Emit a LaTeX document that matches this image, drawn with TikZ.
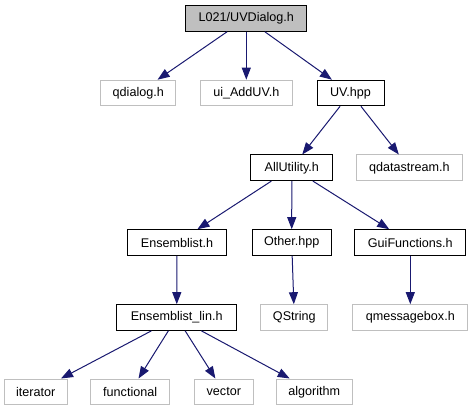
\documentclass[tikz,border=0pt]{standalone}
\usepackage{fontspec}
\setmainfont{Liberation Sans}
\usetikzlibrary{arrows.meta}
\definecolor{edgeblue}{HTML}{191970}
\definecolor{boxgray}{HTML}{BFBFBF}

\begin{document}
\begin{tikzpicture}[x=1pt, y=-1pt,
    file/.style={draw=black, line width=1pt, minimum height=25.6pt, inner sep=0pt,
                 font=\fontsize{12.6}{15}\selectfont},
    sysfile/.style={file, draw=boxgray},
    dep/.style={-{Triangle[length=12pt,width=9pt]}, draw=edgeblue, line width=1pt}]
    \useasboundingbox (0,0) rectangle (473,411);

    % Fichier de depart
    \node[file, fill=boxgray, minimum width=121pt] (top) at (246.3,18.5) {L021/UVDialog.h};

    % Premier niveau
    \node[sysfile, minimum width=74.7pt] (qdialog) at (138.3,93) {qdialog.h};
    \node[sysfile, minimum width=92pt] (uiadd) at (246.3,93) {ui\_AddUV.h};
    \node[file, minimum width=67pt] (uv) at (350.5,93) {UV.hpp};

    % Deuxieme niveau
    \node[file, minimum width=82.3pt] (allutil) at (291.8,167.8) {AllUtility.h};
    \node[sysfile, minimum width=106pt] (qdatastream) at (409.3,167.8) {qdatastream.h};

    % Troisieme niveau
    \node[file, minimum width=98.6pt] (ensemblist) at (177,242.5) {Ensemblist.h};
    \node[file, minimum width=78.7pt] (other) at (291.7,242.5) {Other.hpp};
    \node[file, minimum width=110.7pt] (guifun) at (410.3,242.5) {GuiFunctions.h};

    % Quatrieme niveau
    \node[file, minimum width=120pt] (enslin) at (176.7,317.5) {Ensemblist\_lin.h};
    \node[sysfile, minimum width=66.7pt] (qstring) at (294.3,317.5) {QString};
    \node[sysfile, minimum width=114.7pt] (qmsg) at (410.3,317.5) {qmessagebox.h};

    % En-tetes standard
    \node[sysfile, minimum width=63pt] (iterator) at (35.8,391.8) {iterator};
    \node[sysfile, minimum width=79pt] (functional) at (130.2,391.8) {functional};
    \node[sysfile, minimum width=59pt] (vector) at (223.8,391.8) {vector};
    \node[sysfile, minimum width=76pt] (algorithm) at (314.3,391.8) {algorithm};

    % Inclusions
    \draw[dep] (top) -- (qdialog);
    \draw[dep] (top) -- (uiadd);
    \draw[dep] (top) -- (uv);
    \draw[dep] (uv) -- (allutil);
    \draw[dep] (uv) -- (qdatastream);
    \draw[dep] (allutil) -- (ensemblist);
    \draw[dep] (allutil) -- (other);
    \draw[dep] (allutil) -- (guifun);
    \draw[dep] (ensemblist) -- (enslin);
    \draw[dep] (other) -- (qstring);
    \draw[dep] (guifun) -- (qmsg);
    \draw[dep] (enslin) -- (iterator);
    \draw[dep] (enslin) -- (functional);
    \draw[dep] (enslin) -- (vector);
    \draw[dep] (enslin) -- (algorithm);
\end{tikzpicture}
\end{document}
